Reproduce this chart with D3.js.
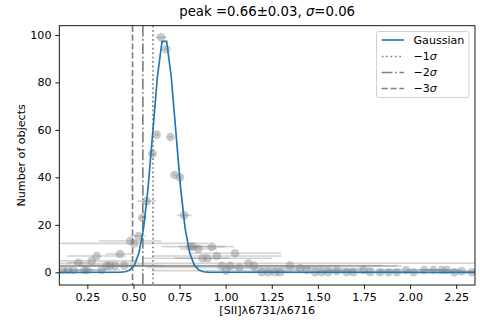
<!DOCTYPE html>
<html>
<head>
<meta charset="utf-8">
<script src="https://cdn.jsdelivr.net/npm/d3@7"></script>
<style>
  html, body { margin: 0; padding: 0; background: #fff; }
  svg { display: block; font-family: "DejaVu Sans", sans-serif; }
</style>
</head>
<body>
<svg id="chart" width="480" height="320"></svg>
<script>
// ---- data ----
const pointX = [0.115,0.145,0.175,0.201,0.234,0.250,0.274,0.301,0.328,0.355,0.373,0.400,0.427,0.450,0.482,0.505,0.527,0.548,0.572,0.603,0.626,0.650,0.677,0.700,0.722,0.752,0.775,0.807,0.825,0.852,0.874,0.901,0.925,0.952,0.979,1.002,1.024,1.051,1.074,1.123,1.154,1.196,1.232,1.268,1.295,1.349,1.403,1.439,1.484,1.520,1.556,1.602,1.656,1.692,1.747,1.783,1.837,1.883,1.928,1.978,2.018,2.076,2.126,2.172,2.199,2.240,2.280,2.335];
const pointY = [1,1,1,4,1,1,4.8,6.9,1,2.8,2.8,2.8,7.7,2.8,13.2,12.2,15.3,23,30,50,58,99,94,57,41,40,24,10.8,10.8,9.8,5.9,5.9,10.8,6.9,2.7,0.7,2.7,8,2,3.8,2.7,0,0,0,0,2.8,1.7,1,0,0,0,0.6,0,0,1,0,0,0,0,1,0,1,1,1,1,0,0.5,0];
const pointXerr = [0.03,0.03,0.04,0.06,0.05,0.10,0.25,0.16,0.10,0.15,0.30,0.20,0.08,0.40,0.17,0.40,0.04,0.02,0.05,0.02,0.01,0.03,0.01,0.01,0.01,0.01,0.04,0.06,0.17,0.10,0.15,0.35,0.12,0.35,0.95,0.40,0.60,0.25,0.50,1.30,0.80,0.10,0.08,0.10,0.08,0.50,0.40,0.30,0.08,0.06,0.08,0.10,0.06,0.08,0.20,0.06,0.08,0.06,0.08,0.15,0.06,0.10,0.08,0.10,0.08,0.06,0.08,0.06];

const gaussX = [0.10,0.405,0.430,0.455,0.480,0.505,0.530,0.555,0.580,0.605,0.630,0.655,0.680,0.705,0.730,0.755,0.780,0.805,0.830,0.855,0.880,0.905,0.930,2.35];
const gaussY = [0,0.01,0.06,0.25,0.95,3.0,8.2,18.6,36.1,59.3,82.4,97.3,97.3,82.4,59.3,36.1,18.6,8.2,3.0,0.95,0.25,0.06,0.01,0];

const sigmaPos = [0.606, 0.551, 0.495];
const sigmaLabels = ["1", "2", "3"];
const xTicks = [0.25,0.50,0.75,1.00,1.25,1.50,1.75,2.00,2.25];
const yTicks = [0,20,40,60,80,100];
const titleText = "peak =0.66±0.03, ";

// ---- layout ----
const svg = d3.select("#chart");
const L = 59.3, R = 475, T = 25.7, B = 285;
const x = d3.scaleLinear().domain([0.098, 2.352]).range([L, R]);
const y = d3.scaleLinear().domain([-5.35, 103.9]).range([B, T]);
const fs = 11.1;

svg.append("clipPath").attr("id", "clip").append("rect")
  .attr("x", L).attr("y", T).attr("width", R - L).attr("height", B - T);

const plot = svg.append("g").attr("clip-path", "url(#clip)");

// error bars
plot.append("g").selectAll("line").data(pointX).join("line")
  .attr("x1", (d, i) => x(d - pointXerr[i]))
  .attr("x2", (d, i) => x(d + pointXerr[i]))
  .attr("y1", (d, i) => y(pointY[i]))
  .attr("y2", (d, i) => y(pointY[i]))
  .attr("stroke", "#808080").attr("stroke-opacity", 0.35).attr("stroke-width", 1.6);

// points
plot.append("g").selectAll("circle").data(pointX).join("circle")
  .attr("cx", d => x(d))
  .attr("cy", (d, i) => y(pointY[i]))
  .attr("r", 4.3)
  .attr("fill", "#808080").attr("fill-opacity", 0.42);

// sigma lines
const dashes = ["1.67,2.75", "10.7,2.66,1.67,2.66", "6.2,2.66"];
plot.append("g").selectAll("line").data(sigmaPos).join("line")
  .attr("x1", d => x(d)).attr("x2", d => x(d))
  .attr("y1", T).attr("y2", B)
  .attr("stroke", "#808080").attr("stroke-width", 1.67)
  .attr("stroke-dasharray", (d, i) => dashes[i]);

// gaussian
const line = d3.line().x((d, i) => x(gaussX[i])).y(d => y(d));
plot.append("path").datum(gaussY).attr("d", line)
  .attr("fill", "none").attr("stroke", "#1f77b4").attr("stroke-width", 1.67);

// axes
const xAxis = d3.axisBottom(x).tickValues(xTicks).tickFormat(d3.format(".2f")).tickSize(3.9).tickPadding(3.9);
const yAxis = d3.axisLeft(y).tickValues(yTicks).tickFormat(d3.format("d")).tickSize(3.9).tickPadding(3.9);
const gx = svg.append("g").attr("transform", `translate(0,${B})`).call(xAxis);
const gy = svg.append("g").attr("transform", `translate(${L},0)`).call(yAxis);
[gx, gy].forEach(g => {
  g.select(".domain").remove();
  g.selectAll(".tick line").attr("stroke", "#000").attr("stroke-width", 0.9);
  g.selectAll(".tick text").attr("font-size", fs).attr("fill", "#000").attr("font-family", "DejaVu Sans");
});

// frame
svg.append("rect").attr("x", L).attr("y", T).attr("width", R - L).attr("height", B - T)
  .attr("fill", "none").attr("stroke", "#000").attr("stroke-width", 0.9);

// title
const title = svg.append("text").attr("x", (L + R) / 2).attr("y", 16)
  .attr("text-anchor", "middle").attr("font-size", 13.3).attr("fill", "#000");
title.append("tspan").text(titleText);
title.append("tspan").attr("font-style", "italic").text("σ");
title.append("tspan").text("=0.06");

// axis labels
svg.append("text").attr("x", (L + R) / 2).attr("y", 314).attr("text-anchor", "middle")
  .attr("font-size", fs).attr("fill", "#000").text("[SII]λ6731/λ6716");
svg.append("text").attr("transform", `translate(21.7,${(T + B) / 2}) rotate(-90)`)
  .attr("text-anchor", "middle").attr("dominant-baseline", "central")
  .attr("font-size", fs).attr("fill", "#000").text("Number of objects");

// legend
const lg = svg.append("g");
lg.append("rect").attr("x", 376.5).attr("y", 31.5).attr("width", 92.5).attr("height", 66)
  .attr("rx", 2.5).attr("fill", "#fff").attr("fill-opacity", 0.8)
  .attr("stroke", "#cccccc").attr("stroke-width", 0.9);
const legY = [40, 56.5, 72.5, 88.5];
const legItems = [
  { color: "#1f77b4", dash: null, main: "Gaussian", sig: null },
  { color: "#808080", dash: dashes[0], main: "−" + sigmaLabels[0], sig: "σ" },
  { color: "#808080", dash: dashes[1], main: "−" + sigmaLabels[1], sig: "σ" },
  { color: "#808080", dash: dashes[2], main: "−" + sigmaLabels[2], sig: "σ" }
];
legItems.forEach((it, i) => {
  lg.append("line").attr("x1", 381.7).attr("x2", 403.9).attr("y1", legY[i]).attr("y2", legY[i])
    .attr("stroke", it.color).attr("stroke-width", 1.67)
    .attr("stroke-dasharray", it.dash);
  const t = lg.append("text").attr("x", 413.5).attr("y", legY[i]).attr("dy", "0.36em")
    .attr("font-size", fs).attr("fill", "#000");
  t.append("tspan").text(it.main);
  if (it.sig) t.append("tspan").attr("font-style", "italic").text(it.sig);
});
</script>
</body>
</html>
